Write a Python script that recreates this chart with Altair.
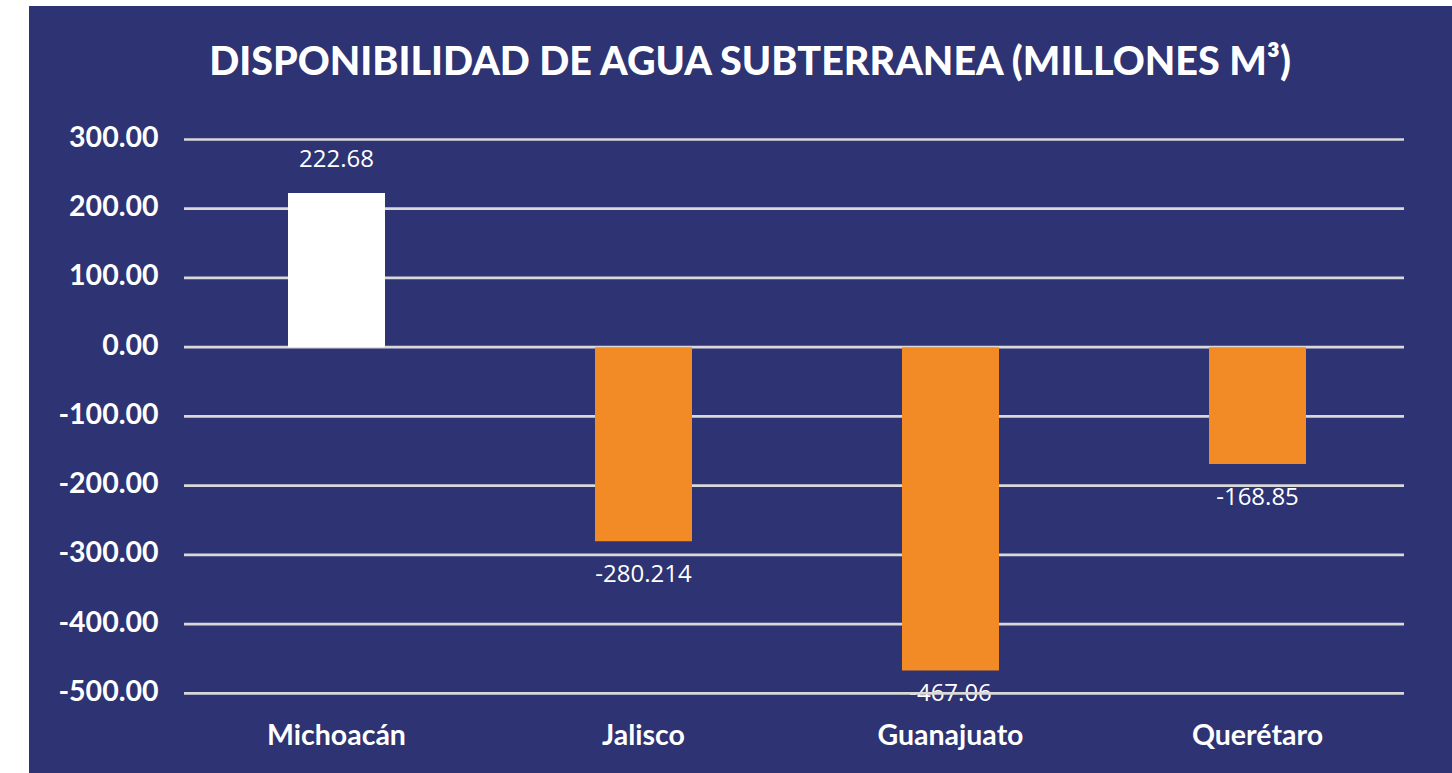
import altair as alt
import pandas as pd

states = ["Michoacán", "Jalisco", "Guanajuato", "Querétaro"]
values = [222.68, -280.214, -467.06, -168.85]
value_labels = ["222.68", "-280.214", "-467.06", "-168.85"]
tick_values = [300, 200, 100, 0, -100, -200, -300, -400, -500]
title_text = "DISPONIBILIDAD DE AGUA SUBTERRANEA (MILLONES M³)"

NAVY = "#2d3373"
ORANGE = "#f28a25"
GRID = "#d9d9d9"

df = pd.DataFrame({"estado": states, "valor": values, "etiqueta": value_labels})
grid_df = pd.DataFrame({"valor": tick_values})
title_df = pd.DataFrame({"t": [title_text]})

yscale = alt.Scale(domain=[-615.1, 492.8], nice=False, zero=False)
xscale = alt.Scale(domain=states, range=[154, 1382], paddingInner=0.684, paddingOuter=0.342)

yaxis = alt.Axis(
    values=tick_values, grid=False, ticks=False, tickSize=0, domain=False,
    orient="left", offset=-129, labelPadding=0,
    labelExpr="replace(format(datum.value, '.2f'), '\u2212', '-')",
    labelFont="Lato", labelFontWeight="bold", labelFontSize=28.5, labelColor="white",
    labelBaseline="alphabetic", labelOffset=7, title=None,
)
xaxis = alt.Axis(
    orient="bottom", offset=-29, labelPadding=0, ticks=False, tickSize=0, domain=False,
    labelFont="Lato", labelFontWeight="bold", labelFontSize=28.5, labelColor="white",
    labelBaseline="alphabetic", labelAngle=0, title=None,
)

X = alt.X("estado:N", scale=xscale, axis=xaxis, sort=states)
Y = alt.Y("valor:Q", scale=yscale, axis=yaxis)

base = alt.Chart(df)

labels_pos = base.transform_filter(alt.datum.valor > 0).mark_text(
    font="Open Sans", fontSize=24, color="white", baseline="middle", dy=-33
).encode(x=X, y=Y, text="etiqueta:N")

labels_neg = base.transform_filter(
    (alt.datum.valor <= 0) & (alt.datum.valor > -450)
).mark_text(
    font="Open Sans", fontSize=24, color="white", baseline="middle", dy=34
).encode(x=X, y=Y, text="etiqueta:N")

# Label kept inside the plot area when the bar reaches its bottom
labels_edge = base.transform_filter(alt.datum.valor <= -450).mark_text(
    font="Open Sans", fontSize=24, color="white", baseline="middle", dy=23
).encode(x=X, y=Y, text="etiqueta:N")

rules = alt.Chart(grid_df).mark_rule(color=GRID, strokeWidth=2.7).encode(
    x=alt.value(155), x2=alt.value(1375), y=Y,
)

bars = base.mark_bar().encode(
    x=X, y=Y,
    color=alt.condition(alt.datum.valor > 0, alt.value("white"), alt.value(ORANGE)),
)

title = alt.Chart(title_df).mark_text(
    font="Lato", fontWeight=900, fontSize=39.5, color="white",
    align="center", baseline="alphabetic",
).encode(x=alt.value(721), y=alt.value(69), text="t:N")

chart = alt.layer(labels_pos, labels_neg, labels_edge, rules, bars, title).properties(
    width=1423, height=767,
    background="white",
    padding={"left": 29, "top": 6, "right": 0, "bottom": 0},
    autosize=alt.AutoSizeParams(type="none"),
).configure_view(fill=NAVY, stroke=None)

chart.save("out.html", embed_options={"renderer": "svg", "actions": False})
